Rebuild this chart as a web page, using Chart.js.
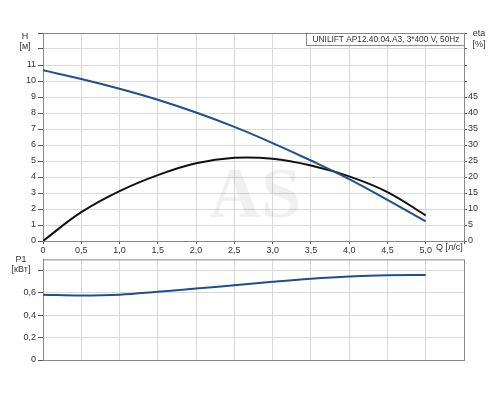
<!DOCTYPE html>
<html>
<head>
<meta charset="utf-8">
<script src="https://cdn.jsdelivr.net/npm/chart.js@4"></script>
<style>
  body { margin: 0; background: #fff; }
  #wrap { position: relative; width: 500px; height: 400px; }
  canvas { position: absolute; left: 0; }
  #top { top: 0; }
  #bottom { top: 252px; }
</style>
</head>
<body>
<div id="wrap">
  <canvas id="top" width="500" height="255"></canvas>
  <canvas id="bottom" width="500" height="148"></canvas>
</div>
<script>
const flow = [0, 0.5, 1.0, 1.5, 2.0, 2.5, 3.0, 3.5, 4.0, 4.5, 5.0];
const head = [10.67, 10.13, 9.52, 8.83, 8.03, 7.13, 6.12, 5.03, 3.87, 2.57, 1.23];
const eta = [0, 9.0, 15.6, 20.6, 24.3, 26.0, 25.7, 23.6, 20.2, 15.3, 8.0];
const power = [0.584, 0.577, 0.584, 0.610, 0.639, 0.669, 0.70, 0.727, 0.747, 0.758, 0.76];
const pumpName = "UNILIFT AP12.40.04.A3, 3*400 V, 50Hz";

const FONT = "'Liberation Sans', Arial, sans-serif";
const TXT = "#333";
const GRID = "#d9d9d9";
const AXIS = "#555";
const BLUE = "#1f4f8f";

Chart.defaults.font.family = FONT;
Chart.defaults.font.size = 9;
Chart.defaults.color = TXT;

function pts(ys) {
  return flow.map((q, i) => ({ x: q, y: ys[i] }));
}
function comma(v, digits) {
  return v === 0 ? "0" : v.toFixed(digits).replace(".", ",");
}
function fixWidth(w) { return s => { s.width = w; }; }
function fixHeight(h) { return s => { s.height = h; }; }

function xAxis(showLabels) {
  return {
    type: "linear", min: 0, max: 5.5,
    afterFit: fixHeight(showLabels ? 14 : 40),
    border: { color: AXIS },
    grid: { color: GRID, tickColor: AXIS, tickLength: showLabels ? 3 : 0 },
    ticks: {
      display: showLabels, stepSize: 0.5, padding: 1, maxRotation: 0,
      callback: v => v > 5.01 ? "" : comma(v, 1)
    }
  };
}

// texts, frame and watermark
const decor = {
  id: "decor",
  beforeDatasetsDraw(chart, args, opts) {
    const ctx = chart.ctx, a = chart.chartArea;
    ctx.save();
    ctx.strokeStyle = "#888";
    ctx.lineWidth = 1;
    ctx.strokeRect(a.left + 0.5, a.top + 0.5, a.right - a.left, a.bottom - a.top);
    if (opts.watermark) {
      ctx.fillStyle = "rgba(0,0,0,0.06)";
      ctx.font = "bold 72px 'Liberation Serif', serif";
      ctx.textAlign = "center";
      ctx.textBaseline = "middle";
      ctx.fillText("AS", 255, 198);
    }
    ctx.restore();
  },
  afterDraw(chart, args, opts) {
    const ctx = chart.ctx;
    ctx.save();
    ctx.fillStyle = TXT;
    ctx.font = "9px " + FONT;
    ctx.textBaseline = "middle";
    (opts.labels || []).forEach(l => {
      ctx.textAlign = l.align || "center";
      ctx.fillText(l.text, l.x, l.y);
    });
    if (opts.box) {
      const b = opts.box;
      ctx.fillStyle = "#fff";
      ctx.fillRect(b.x, b.y, b.w, b.h);
      ctx.strokeStyle = "#888";
      ctx.strokeRect(b.x + 0.5, b.y + 0.5, b.w, b.h);
      ctx.fillStyle = TXT;
      ctx.font = "8.3px " + FONT;
      ctx.textAlign = "center";
      ctx.fillText(b.text, b.x + b.w / 2 + 1, b.y + b.h / 2 + 1);
    }
    ctx.restore();
  }
};

const lineStyle = { borderWidth: 2, pointRadius: 0, tension: 0.4 };

new Chart(document.getElementById("top"), {
  type: "line",
  data: {
    datasets: [
      { label: "H", data: pts(head), yAxisID: "y", borderColor: BLUE, ...lineStyle },
      { label: "eta", data: pts(eta), yAxisID: "y2", borderColor: "#111", ...lineStyle }
    ]
  },
  options: {
    responsive: false, animation: false,
    layout: { padding: { top: 33, left: 0, right: 0, bottom: 0 } },
    plugins: {
      legend: { display: false }, tooltip: { enabled: false },
      decor: {
        watermark: true,
        labels: [
          { text: "H", x: 25, y: 37 }, { text: "[м]", x: 25, y: 47 },
          { text: "eta", x: 479, y: 34 }, { text: "[%]", x: 479, y: 45 },
          { text: "Q [л/с]", x: 436, y: 248, align: "left" }
        ],
        box: { x: 306, y: 33, w: 158, h: 12, text: pumpName }
      }
    },
    scales: {
      x: xAxis(true),
      y: {
        position: "left", min: 0, max: 13,
        afterFit: fixWidth(43),
        border: { color: AXIS },
        grid: { color: GRID, tickColor: AXIS, tickLength: 5 },
        ticks: { stepSize: 1, padding: 2, callback: v => v > 11 ? "" : String(v) }
      },
      y2: {
        position: "right", min: 0, max: 65,
        afterFit: fixWidth(36),
        border: { color: AXIS },
        grid: { drawOnChartArea: false, tickColor: AXIS, tickLength: 3 },
        ticks: { stepSize: 5, padding: 1, callback: v => v > 45 ? "" : String(v) }
      }
    }
  },
  plugins: [decor]
});

new Chart(document.getElementById("bottom"), {
  type: "line",
  data: {
    datasets: [
      { label: "P1", data: pts(power), borderColor: BLUE, ...lineStyle }
    ]
  },
  options: {
    responsive: false, animation: false,
    layout: { padding: { top: 5, left: 0, right: 36, bottom: 0 } },
    plugins: {
      legend: { display: false }, tooltip: { enabled: false },
      decor: {
        labels: [
          { text: "P1", x: 21, y: 8 }, { text: "[кВт]", x: 21, y: 18 }
        ]
      }
    },
    scales: {
      x: xAxis(false),
      y: {
        position: "left", min: 0, max: 0.9,
        afterFit: fixWidth(43),
        border: { color: AXIS },
        grid: { color: GRID, tickColor: AXIS, tickLength: 5 },
        afterBuildTicks: s => { s.ticks = s.ticks.filter(t => t.value < 0.85); },
        ticks: { stepSize: 0.2, padding: 2, callback: v => v > 0.7 ? "" : comma(v, 1) }
      }
    }
  },
  plugins: [decor]
});
</script>
</body>
</html>
